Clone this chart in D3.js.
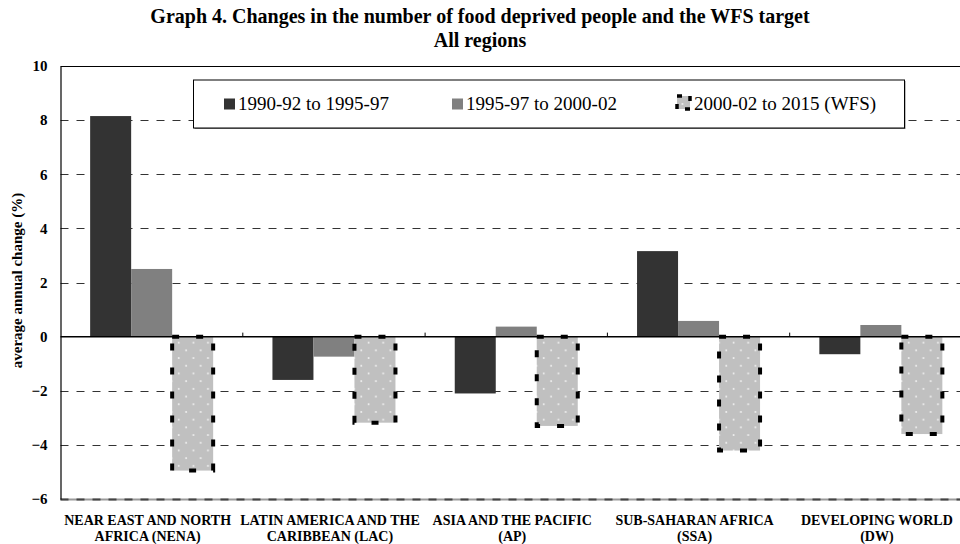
<!DOCTYPE html>
<html>
<head>
<meta charset="utf-8">
<script src="https://cdn.jsdelivr.net/npm/d3@7/dist/d3.min.js"></script>
<style>
  html, body { margin: 0; padding: 0; background: #fff; overflow: hidden; }
  svg, svg text { font-family: "Liberation Serif", "Times New Roman", serif; }
  svg { display: block; }
</style>
</head>
<body>
<svg id="chart" width="960" height="544"></svg>
<script>
// Regions (two-line labels) and the three period series, in % average annual change
const regions = ["NENA", "LAC", "AP", "SSA", "DW"];
const regionLabels = [
  ["NEAR EAST AND NORTH", "AFRICA (NENA)"],
  ["LATIN AMERICA AND THE", "CARIBBEAN (LAC)"],
  ["ASIA AND THE PACIFIC", "(AP)"],
  ["SUB-SAHARAN AFRICA", "(SSA)"],
  ["DEVELOPING WORLD", "(DW)"]
];
const seriesNames = ["1990-92 to 1995-97", "1995-97 to 2000-02", "2000-02 to 2015 (WFS)"];
const change1990_95 = [8.15, -1.60, -2.10, 3.16, -0.65];
const change1995_00 = [2.50, -0.74, 0.37, 0.58, 0.43];
const targetWFS     = [-4.95, -3.18, -3.30, -4.21, -3.60];
const yTicks = [10, 8, 6, 4, 2, 0, -2, -4, -6];

const title1 = "Graph 4. Changes in the number of food deprived people and the WFS target";
const title2 = "All regions";
const yTitle = "average annual change (%)";

const svg = d3.select("#chart");
const m = { left: 60.5, right: 972, top: 66, bottom: 499 };

const x0 = d3.scaleBand().domain(regions).range([m.left, m.right]).padding(0);
const x1 = d3.scaleBand().domain(seriesNames).range([0, x0.bandwidth()])
  .paddingInner(0).paddingOuter(0.723);
const y = d3.scaleLinear().domain([-6, 10]).range([m.bottom, m.top]);

// dotted fill for the WFS target bars
const defs = svg.append("defs");
const pat = defs.append("pattern").attr("id", "dots")
  .attr("patternUnits", "userSpaceOnUse").attr("width", 14.6).attr("height", 15.4);
pat.append("rect").attr("width", 14.6).attr("height", 15.4).attr("fill", "#c0c0c0");
pat.append("circle").attr("cx", 3.6).attr("cy", 3.8).attr("r", 1).attr("fill", "#f2f2f2");
pat.append("circle").attr("cx", 10.9).attr("cy", 11.5).attr("r", 1).attr("fill", "#f2f2f2");

// Titles
svg.append("text").attr("x", 480).attr("y", 23).attr("text-anchor", "middle")
  .attr("font-weight", "bold").attr("font-size", 20).text(title1);
svg.append("text").attr("x", 480).attr("y", 47).attr("text-anchor", "middle")
  .attr("font-weight", "bold").attr("font-size", 20).text(title2);

// Gridlines
const grid = svg.append("g");
grid.append("line")
  .attr("x1", m.left).attr("x2", m.right)
  .attr("y1", Math.round(y(-6)) + 0.5).attr("y2", Math.round(y(-6)) + 0.5)
  .attr("stroke", "#9a9a9a").attr("stroke-width", 2);
grid.selectAll("line.g").data(yTicks.filter(d => d !== 10 && d !== 0))
  .join("line").attr("class", "g")
  .attr("x1", m.left).attr("x2", m.right)
  .attr("y1", d => Math.round(y(d)) + 0.5).attr("y2", d => Math.round(y(d)) + 0.5)
  .attr("stroke", d => d === -6 ? "#444" : "#333").attr("stroke-width", d => d === -6 ? 2 : 1)
  .attr("stroke-dasharray", "8 8");

// Top border
svg.append("line").attr("x1", m.left).attr("x2", m.right)
  .attr("y1", m.top + 0.5).attr("y2", m.top + 0.5).attr("stroke", "#000");

// Y axis labels
const yAxis = d3.axisLeft(y).tickValues(yTicks).tickSize(0).tickPadding(13)
  .tickFormat(d3.format("d"));
const yg = svg.append("g").attr("transform", `translate(${m.left},0)`).call(yAxis)
  .attr("font-family", null).attr("font-size", null);
yg.select(".domain").attr("stroke", "#000").attr("stroke-width", 1.2);
yg.selectAll("text").attr("font-size", 15).attr("font-weight", "bold").attr("fill", "#000");

svg.append("text").attr("transform", `translate(22,${(m.top + m.bottom) / 2 - 2}) rotate(-90)`)
  .attr("text-anchor", "middle").attr("font-weight", "bold").attr("font-size", 15)
  .text(yTitle);

// Bars
const seriesData = [change1990_95, change1995_00, targetWFS];
const fills = ["#333333", "#808080", "url(#dots)"];
const barsG = svg.append("g");
seriesData.forEach((vals, si) => {
  const g = barsG.append("g");
  g.selectAll("rect").data(vals.map((v, i) => ({ v, r: regions[i] })))
    .join("rect")
    .attr("x", d => x0(d.r) + x1(seriesNames[si]))
    .attr("width", x1.bandwidth())
    .attr("y", d => y(Math.max(0, d.v)))
    .attr("height", d => Math.abs(y(d.v) - y(0)))
    .attr("fill", fills[si]);
});

// Zero line with category ticks
svg.append("line").attr("x1", m.left).attr("x2", m.right)
  .attr("y1", y(0)).attr("y2", y(0)).attr("stroke", "#000").attr("stroke-width", 1.5);
svg.append("g").selectAll("line").data(regions.slice(1))
  .join("line")
  .attr("x1", d => x0(d)).attr("x2", d => x0(d))
  .attr("y1", y(0) - 4).attr("y2", y(0)).attr("stroke", "#000");

// Dashed outline of the WFS target bars (drawn on top)
barsG.append("g").selectAll("rect").data(targetWFS.map((v, i) => ({ v, r: regions[i] })))
  .join("rect")
  .attr("x", d => x0(d.r) + x1(seriesNames[2]))
  .attr("width", x1.bandwidth())
  .attr("y", d => y(Math.max(0, d.v)))
  .attr("height", d => Math.abs(y(d.v) - y(0)))
  .attr("fill", "none").attr("stroke", "#000").attr("stroke-width", 4)
  .attr("stroke-dasharray", "7 17");

// Category labels
const cat = svg.append("g");
regions.forEach((r, i) => {
  const cx = x0(r) + x0.bandwidth() / 2 - 4;
  const t = cat.append("text").attr("x", cx)
    .attr("text-anchor", "middle").attr("font-weight", "bold").attr("font-size", 14);
  regionLabels[i].forEach((line, k) => {
    t.append("tspan").attr("x", cx).attr("y", 525 + k * 16).text(line);
  });
});

// Legend
const lg = svg.append("g");
const box = { x: 193, y: 79.5, w: 711, h: 48 };
lg.append("rect").attr("x", box.x + 1.5).attr("y", box.y + 1.5).attr("width", box.w).attr("height", box.h)
  .attr("fill", "#808080");
lg.append("rect").attr("x", box.x + 0.5).attr("y", box.y + 0.5).attr("width", box.w).attr("height", box.h)
  .attr("fill", "#fff").attr("stroke", "#000");
const legendX = [224, 452, 677];
seriesNames.forEach((s, i) => {
  const sw = lg.append("rect").attr("x", legendX[i]).attr("y", 98.5)
    .attr("width", i === 2 ? 13 : 11).attr("height", i === 2 ? 13 : 11).attr("fill", fills[i]);
  if (i === 2) {
    sw.attr("y", 96);
    lg.append("rect").attr("x", legendX[i]).attr("y", 96).attr("width", 13).attr("height", 13)
      .attr("fill", "none").attr("stroke", "#000").attr("stroke-width", 3.5)
      .attr("stroke-dasharray", "5 8");
  }
  lg.append("text").attr("x", legendX[i] + (i === 2 ? 17 : 14)).attr("y", 110)
    .attr("font-size", 19).text(s);
});
</script>
</body>
</html>
